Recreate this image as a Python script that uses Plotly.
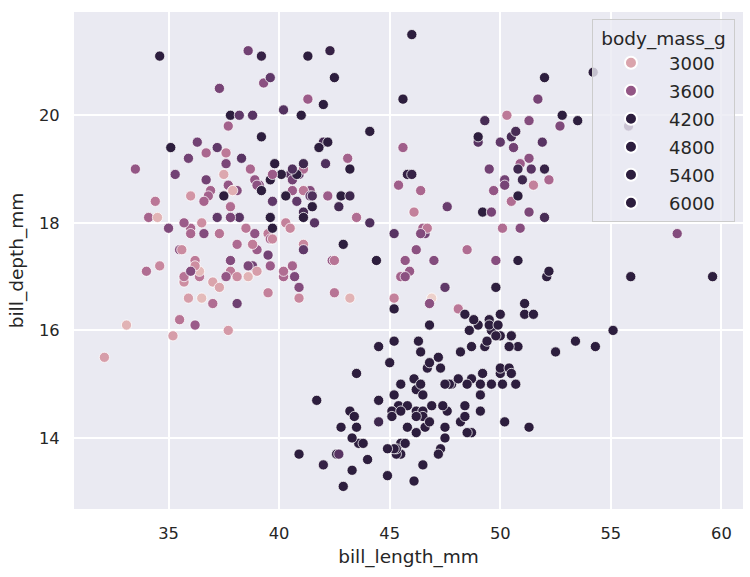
import numpy as np
import plotly.graph_objects as go

# ---------------- data (Palmer penguins, rows with measurements) ----------------
adelie_bill_length = [
    39.1, 39.5, 40.3, 36.7, 39.3, 38.9, 39.2, 34.1, 42.0, 37.8, 37.8, 41.1, 38.6, 34.6, 36.6, 38.7, 42.5, 34.4, 46.0, 37.8,
    37.7, 35.9, 38.2, 38.8, 35.3, 40.6, 40.5, 37.9, 40.5, 39.5, 37.2, 39.5, 40.9, 36.4, 39.2, 38.8, 42.2, 37.6, 39.8, 36.5,
    40.8, 36.0, 44.1, 37.0, 39.6, 41.1, 37.5, 36.0, 42.3, 39.6, 40.1, 35.0, 42.0, 34.5, 41.4, 39.0, 40.6, 36.5, 37.6, 35.7,
    41.3, 37.6, 41.1, 36.4, 41.6, 35.5, 41.1, 35.9, 41.8, 33.5, 39.7, 39.6, 45.8, 35.5, 42.8, 40.9, 37.2, 36.2, 42.1, 34.6,
    42.9, 36.7, 35.1, 37.3, 41.3, 36.3, 36.9, 38.3, 38.9, 35.7, 41.1, 34.0, 39.6, 36.2, 40.8, 38.1, 40.3, 33.1, 43.2, 35.0,
    41.0, 37.7, 37.8, 37.9, 39.7, 38.6, 38.2, 38.1, 43.2, 38.1, 45.6, 39.7, 42.2, 39.6, 42.7, 38.6, 37.3, 35.7, 41.1, 36.2,
    37.7, 40.2, 41.4, 35.2, 40.6, 38.8, 41.5, 39.0, 44.1, 38.5, 43.1, 36.8, 37.5, 38.1, 41.1, 35.6, 40.2, 37.0, 39.7, 40.2,
    40.6, 32.1, 40.7, 37.3, 39.0, 39.2, 36.6, 36.0, 37.8, 36.0, 41.5,
]
adelie_bill_depth = [
    18.7, 17.4, 18.0, 19.3, 20.6, 17.8, 19.6, 18.1, 20.2, 17.1, 17.3, 17.6, 21.2, 21.1, 17.8, 19.0, 20.7, 18.4, 21.5, 18.3,
    18.7, 19.2, 18.1, 17.2, 18.9, 18.6, 17.9, 18.6, 18.9, 16.7, 18.1, 17.8, 18.9, 17.0, 21.1, 20.0, 18.5, 19.3, 19.1, 18.0,
    18.4, 18.5, 19.7, 16.9, 18.8, 19.0, 18.9, 17.9, 21.2, 17.7, 18.9, 17.9, 19.5, 18.1, 18.6, 17.5, 18.8, 16.6, 19.1, 16.9,
    21.1, 17.0, 18.2, 17.1, 18.0, 16.2, 19.1, 16.6, 19.4, 19.0, 18.4, 17.2, 18.9, 17.5, 18.5, 16.8, 19.4, 16.1, 19.1, 17.2,
    17.6, 18.8, 19.4, 17.8, 20.3, 19.5, 18.6, 19.2, 18.8, 18.0, 18.1, 17.1, 18.1, 17.3, 18.9, 18.6, 18.5, 16.1, 18.5, 17.9,
    20.0, 16.0, 20.0, 18.6, 18.9, 17.2, 20.0, 17.0, 19.0, 16.5, 20.3, 17.7, 19.5, 20.7, 18.3, 17.0, 20.5, 17.0, 18.6, 17.2,
    19.8, 17.0, 18.5, 15.9, 19.0, 17.6, 18.3, 17.1, 18.0, 17.9, 19.2, 18.5, 18.5, 17.6, 17.5, 17.5, 20.1, 16.5, 17.9, 17.1,
    17.2, 15.5, 17.0, 16.8, 18.7, 18.6, 18.4, 17.8, 18.1, 17.1, 18.5,
]
adelie_body_mass = [
    3750, 3800, 3250, 3450, 3650, 3625, 4675, 3475, 4250, 3300, 3700, 3200, 3800, 4400, 3700, 3450, 4500, 3325, 4200, 3400,
    3600, 3800, 3950, 3800, 3800, 3550, 3200, 3150, 3950, 3250, 3900, 3300, 3900, 3325, 4150, 3950, 3550, 3300, 4650, 3150,
    3900, 3100, 4400, 3000, 4600, 3425, 2975, 3450, 4150, 3500, 4300, 3450, 4050, 2900, 3700, 3550, 3800, 2850, 3750, 3150,
    4400, 3600, 4050, 2850, 3950, 3350, 4100, 3050, 4450, 3600, 3900, 3550, 4150, 3700, 4250, 3700, 3900, 3550, 4000, 3200,
    4700, 3800, 4200, 3350, 3550, 3800, 3500, 3950, 3600, 3550, 4300, 3400, 4450, 3300, 4300, 3700, 4350, 2900, 4100, 3725,
    4725, 3075, 4250, 2925, 3550, 3750, 3900, 3175, 4775, 3825, 4600, 3200, 4275, 3900, 4075, 2900, 3775, 3350, 3325, 3150,
    3500, 3450, 3875, 3050, 4000, 3275, 4300, 3050, 4000, 3325, 3500, 3500, 4475, 3425, 3900, 3175, 3975, 3400, 4250, 3400,
    3475, 3050, 3725, 3000, 3650, 4250, 3475, 3450, 3750, 3700, 4000,
]

chinstrap_bill_length = [
    46.5, 50.0, 51.3, 45.4, 52.7, 45.2, 46.1, 51.3, 46.0, 51.3, 46.6, 51.7, 47.0, 52.0, 45.9, 50.5, 50.3, 58.0, 46.4, 49.2,
    42.4, 48.5, 43.2, 50.6, 46.7, 52.0, 50.5, 49.5, 46.4, 52.8, 40.9, 54.2, 42.5, 51.0, 49.7, 47.5, 47.6, 52.0, 46.9, 53.5,
    49.0, 46.2, 50.9, 45.5, 50.9, 50.8, 50.1, 49.0, 51.5, 49.8, 48.1, 51.4, 45.7, 50.7, 42.5, 52.2, 45.2, 49.3, 50.2, 45.6,
    51.9, 46.8, 45.7, 55.8, 43.5, 49.6, 50.8, 50.2,
]
chinstrap_bill_depth = [
    17.9, 19.5, 19.2, 18.7, 19.8, 17.8, 18.2, 18.2, 18.9, 19.9, 17.8, 20.3, 17.3, 18.1, 17.1, 19.6, 20.0, 17.8, 18.6, 18.2,
    17.3, 17.5, 16.6, 19.4, 17.9, 19.0, 18.4, 19.0, 17.8, 20.0, 16.6, 20.8, 16.7, 18.8, 18.6, 16.8, 18.3, 20.7, 16.6, 19.9,
    19.5, 17.5, 19.1, 17.0, 17.9, 18.5, 17.9, 19.6, 18.7, 17.3, 16.4, 19.0, 17.3, 19.7, 17.3, 18.8, 16.6, 19.9, 18.8, 19.4,
    19.5, 16.5, 17.0, 19.8, 18.1, 18.2, 19.0, 18.7,
]
chinstrap_body_mass = [
    3500, 3900, 3650, 3525, 3725, 3950, 3250, 3750, 4150, 3700, 3800, 3775, 3700, 4050, 3575, 4050, 3300, 3700, 3450, 4400,
    3600, 3400, 2900, 3800, 3300, 4150, 3400, 3800, 3700, 4550, 3200, 4300, 3350, 4100, 3600, 3900, 3850, 4800, 2700, 4500,
    3950, 3650, 3550, 3500, 3675, 4450, 3400, 4300, 3250, 3675, 3325, 3950, 3600, 4050, 3350, 3450, 3250, 4050, 3800, 3525,
    3950, 3650, 3650, 4000, 3400, 3775, 4100, 3775,
]

gentoo_bill_length = [
    46.1, 50.0, 48.7, 50.0, 47.6, 46.5, 45.4, 46.7, 43.3, 46.8, 40.9, 49.0, 45.5, 48.4, 45.8, 49.3, 42.0, 49.2, 46.2, 48.7,
    50.2, 45.1, 46.5, 46.3, 42.9, 46.1, 44.5, 47.8, 48.2, 50.0, 47.3, 42.8, 45.1, 59.6, 49.1, 48.4, 42.6, 44.4, 44.0, 48.7,
    42.7, 49.6, 45.3, 49.6, 50.5, 43.6, 45.5, 50.5, 44.9, 45.2, 46.6, 48.5, 45.1, 50.1, 46.5, 45.0, 43.8, 45.5, 43.2, 50.4,
    45.3, 46.2, 45.7, 54.3, 45.8, 49.8, 46.2, 49.5, 43.5, 50.7, 47.7, 46.4, 48.2, 46.5, 46.4, 48.6, 47.5, 51.1, 45.2, 45.2,
    49.1, 52.5, 47.4, 50.0, 44.9, 50.8, 43.4, 51.3, 47.5, 52.1, 47.5, 52.2, 45.5, 49.5, 44.5, 50.8, 49.4, 46.9, 48.4, 51.1,
    48.5, 55.9, 47.2, 49.1, 47.3, 46.8, 41.7, 53.4, 43.3, 48.1, 50.5, 49.8, 43.5, 51.5, 46.2, 55.1, 44.5, 48.8, 47.2, 46.8,
    50.4, 45.2, 49.9,
]
gentoo_bill_depth = [
    13.2, 16.3, 14.1, 15.2, 14.5, 13.5, 14.6, 15.3, 13.4, 15.4, 13.7, 16.1, 13.7, 14.6, 14.6, 15.7, 13.5, 15.2, 14.5, 15.1,
    14.3, 14.5, 14.5, 15.8, 13.1, 15.1, 14.3, 15.0, 14.3, 15.3, 15.3, 14.2, 14.5, 17.0, 14.8, 16.3, 13.7, 17.3, 13.6, 15.7,
    13.7, 16.0, 13.7, 15.0, 15.9, 13.9, 13.9, 15.9, 13.3, 15.8, 14.2, 14.1, 14.4, 15.0, 14.4, 15.4, 13.9, 15.0, 14.5, 15.3,
    13.8, 14.9, 13.9, 15.7, 14.2, 16.8, 14.4, 16.2, 14.2, 15.0, 15.0, 15.6, 15.6, 14.8, 15.0, 16.0, 14.2, 16.3, 13.8, 16.4,
    14.5, 15.6, 14.6, 15.9, 13.8, 17.3, 14.4, 14.2, 14.0, 17.0, 15.0, 17.1, 14.5, 16.1, 14.7, 15.7, 15.8, 14.6, 14.4, 16.5,
    15.0, 17.0, 15.5, 15.0, 13.8, 16.1, 14.7, 15.8, 14.0, 15.1, 15.2, 15.9, 15.2, 16.3, 14.1, 16.0, 15.7, 16.2, 13.7, 14.3,
    15.7, 14.8, 16.1,
]
gentoo_body_mass = [
    4500, 5700, 4450, 5700, 5400, 4550, 4800, 5200, 4400, 5150, 4650, 5550, 4650, 5850, 4200, 5850, 4150, 6300, 4800, 5350,
    5700, 5000, 4400, 5050, 5000, 5100, 4100, 5650, 4600, 5550, 5250, 4700, 5050, 6050, 5150, 5400, 4950, 5250, 4350, 5350,
    3950, 5700, 4300, 4750, 5550, 4900, 4200, 5400, 5100, 5300, 4850, 5300, 4400, 5000, 4900, 5050, 4300, 5000, 4450, 5550,
    4200, 5300, 4400, 5650, 4700, 5700, 4650, 5800, 4700, 5550, 4750, 5000, 5100, 5200, 4700, 5800, 4600, 6000, 4750, 5950,
    4625, 5450, 4725, 5350, 4750, 5600, 4600, 5300, 4875, 5550, 4950, 5400, 4750, 5650, 4850, 5200, 4925, 4875, 4625, 5250,
    4850, 5600, 4975, 5500, 4725, 5500, 4700, 5500, 4575, 5500, 5000, 5950, 4650, 5500, 4375, 5850, 4875, 6000, 4925, 4850,
    5750, 5200, 5400,
]

legend_levels = [3000, 3600, 4200, 4800, 5400, 6000]
# colour normalisation range (colours saturate above ~4200 g)
hue_norm = [2700, 4200]

bill_length = adelie_bill_length + chinstrap_bill_length + gentoo_bill_length
bill_depth = adelie_bill_depth + chinstrap_bill_depth + gentoo_bill_depth
body_mass = adelie_body_mass + chinstrap_body_mass + gentoo_body_mass

# ---------------- seaborn default cubehelix colormap ("ch:") ----------------
def cubehelix_rgb(x, start=0.0, rot=0.4, gamma=1.0, hue=0.8):
    xg = x ** gamma
    a = hue * xg * (1 - xg) / 2
    phi = 2 * np.pi * (start / 3 + rot * x)
    r = xg + a * (-0.14861 * np.cos(phi) + 1.78277 * np.sin(phi))
    g = xg + a * (-0.29227 * np.cos(phi) - 0.90649 * np.sin(phi))
    b = xg + a * (1.97294 * np.cos(phi))
    return tuple(int(round(255 * min(1, max(0, c)))) for c in (r, g, b))

light, dark = 0.85, 0.15
def cmap(t):
    t = min(1.0, max(0.0, t))
    r, g, b = cubehelix_rgb(light + (dark - light) * t)
    return f"rgb({r},{g},{b})"

colorscale = [[t, cmap(t)] for t in np.linspace(0, 1, 33)]
vmin, vmax = hue_norm

fig = go.Figure()
fig.add_trace(go.Scatter(
    x=bill_length, y=bill_depth, mode="markers",
    marker=dict(color=body_mass, colorscale=colorscale, cmin=vmin, cmax=vmax,
                size=10.2, line=dict(color="white", width=0.75), opacity=1),
    showlegend=False, hoverinfo="skip",
))

for i, lv in enumerate(legend_levels):
    fig.add_trace(go.Scatter(
        x=[None], y=[None], mode="markers", name=str(lv),
        legendgroup=f"g{i}",
        marker=dict(color=cmap((lv - vmin) / (vmax - vmin)), size=10,
                    line=dict(color="white", width=0.75)),
    ))

text_color = "#262626"
font_family = "DejaVu Sans"

def pad(lo, hi, frac=0.05):
    s = hi - lo
    return [lo - frac * s, hi + frac * s]

fig.update_layout(
    width=750, height=577,
    margin=dict(l=74, r=7, t=12, b=68),
    paper_bgcolor="white",
    plot_bgcolor="#eaeaf2",
    font=dict(family=font_family, color=text_color, size=16),
    legend=dict(
        title=dict(text="\u00a0body_mass_g\u00a0", font=dict(size=18.5), side="top center"),
        x=0.988, y=0.985, xanchor="right", yanchor="top",
        bgcolor="rgba(234,234,242,0.8)", bordercolor="#cccccc", borderwidth=1,
        font=dict(size=18), tracegroupgap=1.6, itemsizing="constant", itemwidth=66,
    ),
    xaxis=dict(
        range=pad(min(bill_length), max(bill_length)),
        tickvals=[35, 40, 45, 50, 55, 60],
        showgrid=True, gridcolor="white", gridwidth=1.6, zeroline=False, showline=False,
        ticks="outside", ticklen=9, tickcolor="rgba(0,0,0,0)",
        tickfont=dict(size=16.3),
        title=dict(text="bill_length_mm", font=dict(size=18.5), standoff=8),
    ),
    yaxis=dict(
        range=pad(min(bill_depth), max(bill_depth)),
        tickvals=[14, 16, 18, 20],
        showgrid=True, gridcolor="white", gridwidth=1.6, zeroline=False, showline=False,
        ticks="outside", ticklen=10, tickcolor="rgba(0,0,0,0)",
        tickfont=dict(size=16.3),
        title=dict(text="bill_depth_mm", font=dict(size=18.5), standoff=10),
    ),
)

fig.write_html("out.html")
